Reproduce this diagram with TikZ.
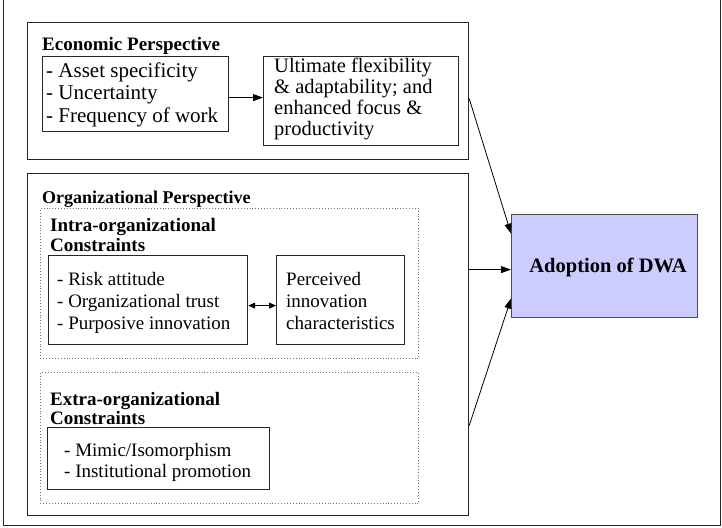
\documentclass[tikz,border=0pt]{standalone}
\usepackage{fontspec}
\setmainfont{Liberation Serif}
\usetikzlibrary{arrows.meta,calc}
\definecolor{dwafill}{RGB}{204,204,255}
\begin{document}
\begin{tikzpicture}[x=1pt,y=-1pt,
  box/.style={draw=black!85,line width=1.2pt,inner sep=0pt,anchor=north west},
  dotbox/.style={draw=black!55,dotted,line width=0.9pt,inner sep=0pt,anchor=north west},
  txt/.style={align=left,font=\fontsize{19}{22}\selectfont,inner sep=0pt,anchor=base west},
  head/.style={align=left,font=\fontsize{19}{19}\selectfont\bfseries,inner sep=0pt,anchor=base west},
  arr/.style={-{Triangle[length=10pt,width=7pt]},line width=0.8pt},
  sarr/.style={-{Triangle[length=10pt,width=7pt]},line width=1pt}
]
\useasboundingbox (0,0) rectangle (722,527);
% outer frame (top edge lies above the picture)
\node[box,line width=1.3pt,minimum width=717,minimum height=540] (frame) at (3,-15) {};
% economic perspective
\node[box,minimum width=441,minimum height=137] (econ) at (27,22) {};
\node[head] (econhead) at (42,51) {Economic Perspective};
\node[box,minimum width=186,minimum height=75] (asset) at (42,56) {};
\node[txt,font=\fontsize{21}{22.5}\selectfont] (assettxt) at (46,122) {- Asset specificity\\- Uncertainty\\- Frequency of work};
\node[box,minimum width=195,minimum height=89] (ult) at (263,56) {};
\node[txt,font=\fontsize{20.5}{20.7}\selectfont] (ulttxt) at (274,135) {Ultimate flexibility\\\& adaptability; and\\enhanced focus \&\\productivity};
\draw[sarr] ([yshift=-3.5pt]asset.east) -- ([yshift=-3.5pt]asset.east -| ult.west);
% organizational perspective
\node[box,minimum width=441,minimum height=342] (org) at (27,173) {};
\node[head,font=\fontsize{18}{18}\selectfont\bfseries] (orghead) at (42,203) {Organizational Perspective};
\node[dotbox,minimum width=378,minimum height=150] (intra) at (40,208) {};
\node[head] (intrahead) at (50,231) {Intra-organizational};
\node[head] (intrahead2) at (50,251) {Constraints};
\node[box,minimum width=199,minimum height=89] (risk) at (48,255) {};
\node[txt] (risktxt) at (57,329) {- Risk attitude\\- Organizational trust\\- Purposive innovation};
\node[box,minimum width=128,minimum height=89] (perc) at (276,255) {};
\node[txt] (perctxt) at (286,329) {Perceived\\innovation\\characteristics};
\draw[{Triangle[length=7pt,width=6pt]}-{Triangle[length=7pt,width=6pt]},line width=1pt] ([yshift=-5.5pt]risk.east) -- ([yshift=-5.5pt]risk.east -| perc.west);
\node[dotbox,minimum width=378,minimum height=131] (extra) at (40,372) {};
\node[head] (extrahead) at (50,405) {Extra-organizational};
\node[head] (extrahead2) at (50,424) {Constraints};
\node[box,minimum width=222,minimum height=62] (mimic) at (47,427) {};
\node[txt,font=\fontsize{19}{21}\selectfont] (mimictxt) at (64,477) {- Mimic/Isomorphism\\- Institutional promotion};
% adoption
\node[box,draw=black!70,fill=dwafill,minimum width=186,minimum height=103] (dwa) at (511,214) {};
\node[font=\fontsize{20.5}{20.5}\selectfont\bfseries,inner sep=0pt] (dwatxt) at (608,267) {Adoption of DWA};
\draw[arr] ([yshift=-7.5pt]econ.east) -- ([yshift=32.5pt]dwa.west);
\draw[arr] ([yshift=75pt]org.east) -- ([yshift=-3.5pt]dwa.west);
\draw[arr] ([yshift=-81pt]org.east) -- ([yshift=-32.5pt]dwa.west);
\end{tikzpicture}
\end{document}
